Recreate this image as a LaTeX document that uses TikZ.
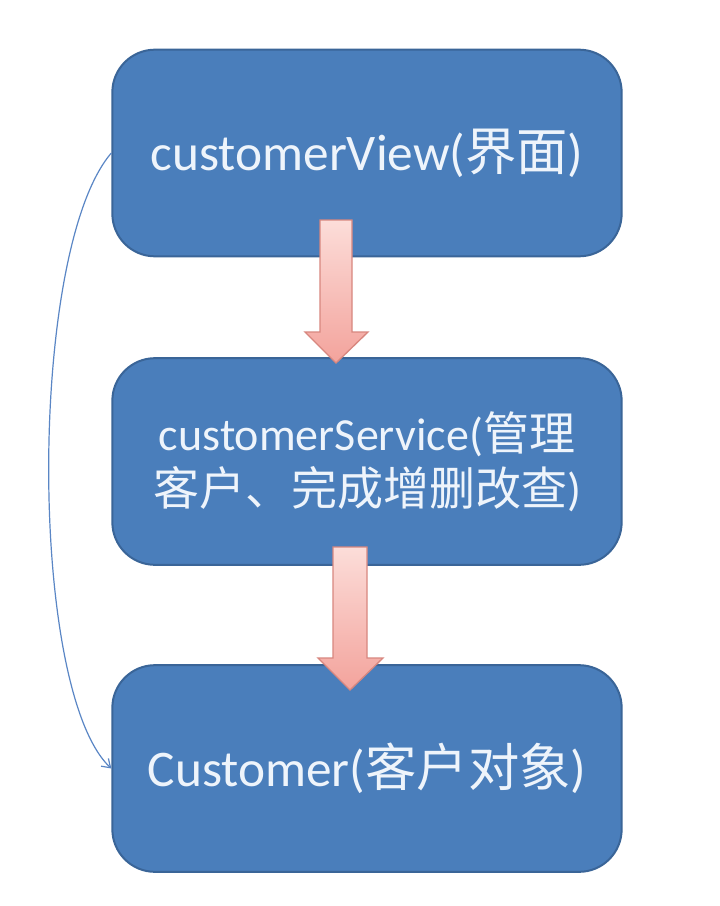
\documentclass[tikz,border=0pt]{standalone}
\usepackage{fontspec}
\setmainfont{Carlito}
\newfontfamily\cjk{Noto Sans CJK SC}
\usetikzlibrary{arrows.meta}
\definecolor{boxfill}{HTML}{4A7EBB}
\definecolor{boxdraw}{HTML}{3A6598}
\definecolor{boxtext}{HTML}{EEF4FB}
\definecolor{arrtop}{HTML}{FCDDD9}
\definecolor{arrbot}{HTML}{F3A39C}
\definecolor{arrdraw}{HTML}{D8877F}
\definecolor{linkcol}{HTML}{5A86C5}
\begin{document}
\begin{tikzpicture}[x=0.75pt,y=-0.75pt,
  box/.style={draw=boxdraw, line width=1.5pt, fill=boxfill, rounded corners=32pt,
    minimum width=382pt, minimum height=155pt, text=boxtext, align=center, inner sep=0pt},
  bigtext/.style={font=\fontsize{38.5}{42}\selectfont},
  midtext/.style={font=\fontsize{34.5}{41}\selectfont},
  blockarrow/.style={top color=arrtop, bottom color=arrbot, draw=arrdraw, line width=1pt, line join=miter},
  link/.style={draw=linkcol, line width=0.9pt, -{Straight Barb[length=6pt,width=8pt]}}]
\useasboundingbox[fill=white] (0,0) rectangle (720,906);
\node[box, bigtext] (view) at (367,153) {customerView({\cjk 界面})};
\node[box, midtext] (service) at (367,461.5) {customerService({\cjk 管理}\\{\cjk 客户、完成增删改查})};
\node[box, bigtext] (cust) at (367,768.5) {Customer({\cjk 客户对象})};
% block arrows
\shade[blockarrow] (320,220) -- (352,220) -- (352,332) -- (368,332) -- (336,363) -- (305,332) -- (320,332) -- cycle;
\shade[blockarrow] (333,547) -- (367,547) -- (367,658) -- (383,658) -- (350,690) -- (318,658) -- (333,658) -- cycle;
% link on the left
\draw[link] (view.west) .. controls (28,250) and (28,690) .. (cust.west);
\end{tikzpicture}
\end{document}
